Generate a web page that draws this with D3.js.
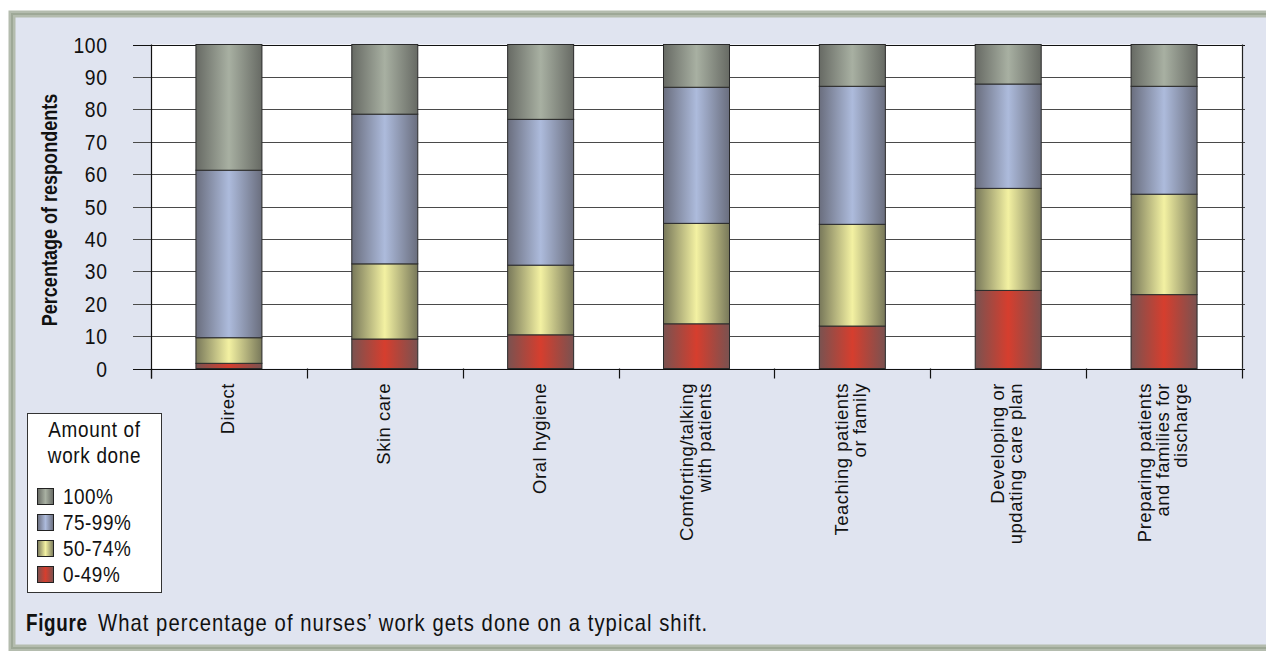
<!DOCTYPE html>
<html>
<head>
<meta charset="utf-8">
<script src="https://cdn.jsdelivr.net/npm/d3@7"></script>
<style>
  html, body { margin: 0; padding: 0; background: #ffffff; }
  svg { display: block; }
</style>
</head>
<body>
<svg id="chart" width="1266" height="651"></svg>
<script>
// ---- data ----
const categories = [
  "Direct", "Skin care", "Oral hygiene", "Comforting/talking with patients",
  "Teaching patients or family", "Developing or updating care plan",
  "Preparing patients and families for discharge"
];
const categoryLines = [
  ["Direct"], ["Skin care"], ["Oral hygiene"],
  ["Comforting/talking", "with patients"],
  ["Teaching patients", "or family"],
  ["Developing or", "updating care plan"],
  ["Preparing patients", "and families for", "discharge"]
];
const seriesNames = ["0-49%", "50-74%", "75-99%", "100%"];
const s0_49   = [1.6, 9.1, 10.4, 13.8, 13.1, 24.1, 22.8];
const s50_74  = [7.9, 23.2, 21.5, 31.0, 31.4, 31.5, 31.0];
const s75_99  = [51.7, 46.2, 45.0, 42.0, 42.6, 32.2, 33.3];
const s100    = [38.8, 21.5, 23.1, 13.2, 12.9, 12.2, 12.9];
const yTicks  = [0, 10, 20, 30, 40, 50, 60, 70, 80, 90, 100];
const legendOrder = ["100%", "75-99%", "50-74%", "0-49%"];

// ---- styles ----
const gradColors = {
  "100%":   { edge: "#676a64", mid: "#a8b0a2" },
  "75-99%": { edge: "#6a6e7e", mid: "#adbbdc" },
  "50-74%": { edge: "#78785a", mid: "#f3f1a2" },
  "0-49%":  { edge: "#7a5250", mid: "#d63e2e" }
};
const sans = "'Liberation Sans', Arial, Helvetica, sans-serif";

const svg = d3.select("#chart");
const defs = svg.append("defs");
seriesNames.forEach((s, i) => {
  const g = defs.append("linearGradient").attr("id", "grad" + i)
    .attr("x1", 0).attr("x2", 1).attr("y1", 0).attr("y2", 0);
  g.append("stop").attr("offset", 0).attr("stop-color", gradColors[s].edge);
  g.append("stop").attr("offset", 0.5).attr("stop-color", gradColors[s].mid);
  g.append("stop").attr("offset", 1).attr("stop-color", gradColors[s].edge);
});

// condensed-looking text helper (horizontal compression of Liberation Sans)
function ctext(parent, tx, ty, str, o) {
  o = o || {};
  const sx = o.sx || 0.86;
  const rot = o.rotate ? ` rotate(${o.rotate})` : "";
  return parent.append("text")
    .attr("transform", `translate(${tx},${ty})${rot} scale(${sx},1)`)
    .attr("text-anchor", o.anchor || "start")
    .attr("font-family", sans)
    .attr("font-size", o.size || 22)
    .attr("font-weight", o.weight || "normal")
    .attr("letter-spacing", o.ls || 0)
    .attr("fill", "#111")
    .text(str);
}

// ---- frame ----
svg.append("rect").attr("x", 12).attr("y", 14).attr("width", 1270).attr("height", 634)
  .attr("fill", "#e0e4f0").attr("stroke", "#b4bcae").attr("stroke-width", 7);
svg.append("rect").attr("x", 12).attr("y", 14).attr("width", 1270).attr("height", 634)
  .attr("fill", "none").attr("stroke", "#9ea897").attr("stroke-width", 2);

// ---- scales ----
const plotL = 151, plotR = 1242, plotT = 44.5, plotB = 368.5;
const x = d3.scaleBand().domain(categories).range([plotL, plotR])
  .paddingInner(0.5765).paddingOuter(0.5765 / 2);
const y = d3.scaleLinear().domain([0, 100]).range([plotB, plotT]);

// plot background
svg.append("rect").attr("x", plotL).attr("y", plotT)
  .attr("width", plotR - plotL).attr("height", plotB - plotT).attr("fill", "#ffffff");

// gridlines + tick marks
svg.append("g").selectAll("line").data(yTicks).join("line")
  .attr("x1", plotL - 18).attr("x2", plotR + 3)
  .attr("y1", d => Math.round(y(d)) + 0.5).attr("y2", d => Math.round(y(d)) + 0.5)
  .attr("stroke", d => (d === 0 || d === 100) ? "#111" : "#4a4a4a")
  .attr("stroke-width", 1.2);

// stacked bars
const table = categories.map((c, i) => ({
  cat: c, "0-49%": s0_49[i], "50-74%": s50_74[i], "75-99%": s75_99[i], "100%": s100[i]
}));
const stacked = d3.stack().keys(seriesNames)(table);
const bars = svg.append("g");
stacked.forEach((layer, li) => {
  bars.append("g").selectAll("rect").data(layer).join("rect")
    .attr("x", d => x(d.data.cat))
    .attr("width", x.bandwidth())
    .attr("y", d => y(d[1]))
    .attr("height", d => y(d[0]) - y(d[1]))
    .attr("fill", "url(#grad" + li + ")")
    .attr("stroke", "#2a2a2a").attr("stroke-width", 1);
});

// plot border (left, right)
svg.append("line").attr("x1", plotL + 0.5).attr("x2", plotL + 0.5)
  .attr("y1", plotT).attr("y2", plotB + 10).attr("stroke", "#111").attr("stroke-width", 1.2);
svg.append("line").attr("x1", plotR + 0.5).attr("x2", plotR + 0.5)
  .attr("y1", plotT).attr("y2", plotB).attr("stroke", "#222").attr("stroke-width", 1.2);

// x axis category ticks
const step = x.step();
const boundaries = d3.range(categories.length + 1).map(k => plotL + k * step);
svg.append("g").selectAll("line").data(boundaries).join("line")
  .attr("x1", d => Math.round(d) + 0.5).attr("x2", d => Math.round(d) + 0.5)
  .attr("y1", plotB).attr("y2", plotB + 10)
  .attr("stroke", "#111").attr("stroke-width", 1.2);

// y tick labels
const yl = svg.append("g");
yTicks.forEach(t => ctext(yl, 107.5, y(t) + 8, String(t), { anchor: "end", ls: 0.7, size: 22.5 }));

// y axis title
ctext(svg, 57, 210, "Percentage of respondents",
  { anchor: "middle", weight: "bold", rotate: -90, sx: 0.82 });

// category labels
const lineH = 18;
categories.forEach((c, i) => {
  const lines = categoryLines[i];
  const cx = x(c) + x.bandwidth() / 2;
  lines.forEach((ln, j) => {
    const off = (j - (lines.length - 1) / 2) * lineH;
    svg.append("text")
      .attr("transform", `translate(${cx + off + 5},383) rotate(-90)`)
      .attr("text-anchor", "end")
      .attr("font-family", sans).attr("font-size", 18.5).attr("letter-spacing", 0.5)
      .attr("fill", "#111")
      .text(ln);
  });
});

// legend
const lg = svg.append("g");
lg.append("rect").attr("x", 27.5).attr("y", 413.5).attr("width", 134).attr("height", 179)
  .attr("fill", "#ffffff").attr("stroke", "#333").attr("stroke-width", 1);
ctext(lg, 94.5, 437, "Amount of", { anchor: "middle", ls: 0.8 });
ctext(lg, 94.5, 463, "work done", { anchor: "middle", ls: 0.8 });
legendOrder.forEach((s, i) => {
  const gi = seriesNames.indexOf(s);
  lg.append("rect").attr("x", 37.5).attr("y", 488.5 + 26 * i).attr("width", 16).attr("height", 16)
    .attr("fill", "url(#grad" + gi + ")").attr("stroke", "#222").attr("stroke-width", 1);
  ctext(lg, 63, 504 + 26 * i, s, { ls: 0.6 });
});

// caption
ctext(svg, 26, 631, "Figure", { weight: "bold", size: 23, sx: 0.82, ls: 0.8 });
ctext(svg, 98, 631, "What percentage of nurses\u2019 work gets done on a typical shift.",
  { size: 23, sx: 0.88, ls: 1.2 });
</script>
</body>
</html>
